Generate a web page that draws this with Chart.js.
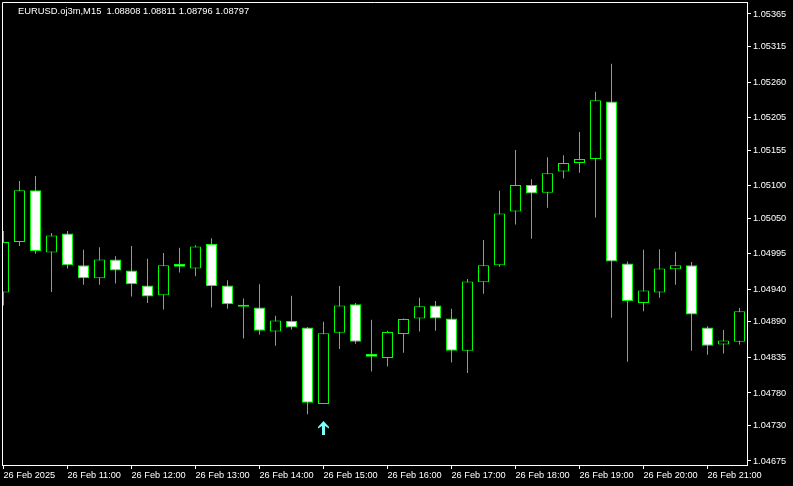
<!DOCTYPE html>
<html>
<head>
<meta charset="utf-8">
<script src="https://cdn.jsdelivr.net/npm/chart.js@4.4.1/dist/chart.umd.min.js"></script>
<style>
  html, body { margin: 0; padding: 0; background: #000; }
  #wrap { position: relative; width: 793px; height: 486px; }
  #title {
    position: absolute; left: 18px; top: 6px;
    color: #fff; font: 9.4px 'Liberation Sans', Arial, sans-serif;
    line-height: 10px; white-space: pre;
  }
</style>
</head>
<body>
<div id="wrap">
  <canvas id="chart" width="793" height="486"></canvas>
  <div id="title">EURUSD.oj3m,M15  1.08808 1.08811 1.08796 1.08797</div>
</div>
<script>
// M15 bars, 26 Feb 2025
const times = [
  '10:00', '10:15', '10:30', '10:45', '11:00', '11:15', '11:30', '11:45',
  '12:00', '12:15', '12:30', '12:45', '13:00', '13:15', '13:30', '13:45',
  '14:00', '14:15', '14:30', '14:45', '15:00', '15:15', '15:30', '15:45',
  '16:00', '16:15', '16:30', '16:45', '17:00', '17:15', '17:30', '17:45',
  '18:00', '18:15', '18:30', '18:45', '19:00', '19:15', '19:30', '19:45',
  '20:00', '20:15', '20:30', '20:45', '21:00', '21:15', '21:30'
]

const open = [
  1.04935, 1.05013, 1.05093, 1.04997, 1.05026, 1.04977, 1.04957, 1.04986,
  1.04969, 1.04946, 1.04931, 1.04979, 1.04972, 1.05010, 1.04946, 1.04913,
  1.04912, 1.04875, 1.04891, 1.04881, 1.04763, 1.04873, 1.04917, 1.04840,
  1.04834, 1.04871, 1.04895, 1.04915, 1.04895, 1.04845, 1.04951, 1.04977,
  1.05060, 1.05101, 1.05089, 1.05122, 1.05135, 1.05141, 1.05230, 1.04980,
  1.04919, 1.04935, 1.04971, 1.04977, 1.04881, 1.04855, 1.04859
]
const high = [
  1.05030, 1.05107, 1.05115, 1.05027, 1.05030, 1.05001, 1.05005, 1.04991,
  1.05007, 1.04987, 1.04996, 1.05004, 1.05008, 1.05019, 1.04954, 1.04926,
  1.04948, 1.04899, 1.04930, 1.04882, 1.04890, 1.04945, 1.04919, 1.04893,
  1.04876, 1.04895, 1.04927, 1.04922, 1.04910, 1.04956, 1.05016, 1.05092,
  1.05155, 1.05110, 1.05144, 1.05147, 1.05183, 1.05245, 1.05288, 1.04983,
  1.05001, 1.05002, 1.04998, 1.04982, 1.04883, 1.04877, 1.04911
]
const low = [
  1.04915, 1.05007, 1.04995, 1.04936, 1.04972, 1.04947, 1.04947, 1.04949,
  1.04929, 1.04919, 1.04909, 1.04966, 1.04960, 1.04912, 1.04910, 1.04864,
  1.04870, 1.04853, 1.04878, 1.04747, 1.04763, 1.04848, 1.04856, 1.04813,
  1.04821, 1.04842, 1.04875, 1.04876, 1.04827, 1.04811, 1.04933, 1.04975,
  1.05040, 1.05018, 1.05066, 1.05111, 1.05120, 1.05051, 1.04896, 1.04828,
  1.04906, 1.04927, 1.04947, 1.04845, 1.04839, 1.04841, 1.04855
]
const close = [
  1.05013, 1.05093, 1.04999, 1.05023, 1.04977, 1.04957, 1.04986, 1.04969,
  1.04948, 1.04929, 1.04977, 1.04975, 1.05006, 1.04945, 1.04917, 1.04916,
  1.04876, 1.04892, 1.04881, 1.04765, 1.04872, 1.04915, 1.04859, 1.04836,
  1.04874, 1.04894, 1.04914, 1.04895, 1.04845, 1.04952, 1.04977, 1.05057,
  1.05101, 1.05088, 1.05119, 1.05135, 1.05141, 1.05232, 1.04983, 1.04922,
  1.04938, 1.04972, 1.04977, 1.04901, 1.04853, 1.04861, 1.04906
]

// buy arrow under the 15:00 bar
const arrowBar = 20
const arrowPrice = 1.04726

const xTickLabels = [
  '26 Feb 2025', '26 Feb 11:00', '26 Feb 12:00', '26 Feb 13:00', '26 Feb 14:00', '26 Feb 15:00',
  '26 Feb 16:00', '26 Feb 17:00', '26 Feb 18:00', '26 Feb 19:00', '26 Feb 20:00', '26 Feb 21:00'
]
const yTickLabels = [
  '1.05365', '1.05315', '1.05260', '1.05205', '1.05155', '1.05100', '1.05050',
  '1.04995', '1.04940', '1.04890', '1.04835', '1.04780', '1.04730', '1.04675'
]

const GREEN = '#00ff00'

// Visible window (bar index / price)
const xMin = -0.09375
const xMax = 46.46875
const yMin = 1.046688
const yMax = 1.053835

// Ticks at full hours
const xTickIndex = times.map((t, i) => (t.endsWith(':00') ? i : -1)).filter(i => i >= 0)

function makeArrow() {
  const c = document.createElement('canvas')
  c.width = 11
  c.height = 14
  const g = c.getContext('2d')
  g.fillStyle = '#80ffff'
  g.beginPath()
  g.moveTo(5.5, 0)
  g.lineTo(11, 6)
  g.lineTo(11, 7.5)
  g.lineTo(7, 5)
  g.lineTo(7, 14)
  g.lineTo(4, 14)
  g.lineTo(4, 5)
  g.lineTo(0, 7.5)
  g.lineTo(0, 6)
  g.closePath()
  g.fill()
  return c
}

// White frame on the left and top edges of the plot
const framePlugin = {
  id: 'frame',
  afterDatasetsDraw(chart) {
    const { ctx, chartArea: a } = chart
    ctx.save()
    ctx.strokeStyle = '#ffffff'
    ctx.lineWidth = 1
    ctx.beginPath()
    ctx.moveTo(a.left + 0.5, a.bottom)
    ctx.lineTo(a.left + 0.5, a.top + 0.5)
    ctx.lineTo(a.right, a.top + 0.5)
    ctx.stroke()
    ctx.restore()
  }
}

Chart.defaults.font.family = "'Liberation Sans', Arial, sans-serif"
Chart.defaults.font.size = 9.2
Chart.defaults.color = '#ffffff'

const bodies = open.map((o, i) => ({ x: i, y: [o, close[i]] }))
const wicks = low.map((l, i) => ({ x: i, y: [l, high[i]] }))
const bodyColors = open.map((o, i) => (close[i] > o ? '#000000' : '#ffffff'))

new Chart(document.getElementById('chart'), {
  type: 'bar',
  data: {
    datasets: [
      {
        label: 'body',
        data: bodies,
        backgroundColor: bodyColors,
        borderColor: GREEN,
        borderWidth: 1,
        borderSkipped: false,
        barThickness: 11,
        grouped: false,
        inflateAmount: 0,
        clip: 0,
        order: 1
      },
      {
        label: 'wick',
        data: wicks,
        backgroundColor: GREEN,
        borderWidth: 0,
        barThickness: 1,
        grouped: false,
        inflateAmount: 0,
        clip: 0,
        order: 2
      },
      {
        type: 'scatter',
        label: 'signal',
        data: [{ x: arrowBar, y: arrowPrice }],
        pointStyle: makeArrow(),
        clip: 0,
        order: 0
      }
    ]
  },
  options: {
    responsive: false,
    animation: false,
    layout: { autoPadding: false, padding: { left: 2, top: 2, right: 0, bottom: 0 } },
    plugins: {
      legend: { display: false },
      tooltip: { enabled: false }
    },
    scales: {
      x: {
        type: 'linear',
        min: xMin,
        max: xMax,
        offset: false,
        grid: { drawOnChartArea: false, drawTicks: true, tickLength: 4, color: '#ffffff', offset: false },
        border: { display: true, color: '#ffffff', width: 1 },
        afterBuildTicks: scale => { scale.ticks = xTickIndex.map(v => ({ value: v })) },
        afterFit: scale => {
          scale.height = 21
          scale.paddingLeft = 0
          scale.paddingRight = 0
        },
        ticks: {
          color: '#ffffff',
          align: 'start',
          padding: 1,
          autoSkip: false,
          maxRotation: 0,
          minRotation: 0,
          callback: (value, index) => xTickLabels[index]
        }
      },
      y: {
        position: 'right',
        min: yMin,
        max: yMax,
        grid: { drawOnChartArea: false, drawTicks: true, tickLength: 4, color: '#ffffff' },
        border: { display: true, color: '#ffffff', width: 1 },
        afterBuildTicks: scale => { scale.ticks = yTickLabels.map(s => ({ value: parseFloat(s) })) },
        afterFit: scale => {
          scale.width = 46
          scale.paddingTop = 0
          scale.paddingBottom = 0
        },
        ticks: {
          color: '#ffffff',
          padding: 2,
          autoSkip: false,
          callback: (value, index) => yTickLabels[index]
        }
      }
    }
  },
  plugins: [framePlugin]
})
</script>
</body>
</html>
